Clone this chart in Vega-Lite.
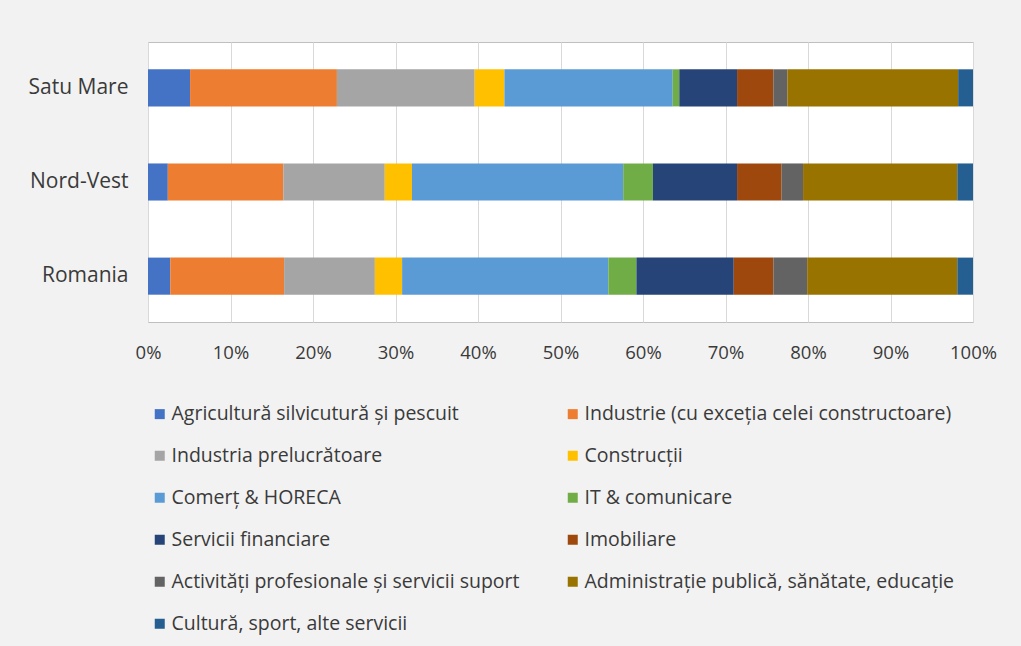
{
  "$schema": "https://vega.github.io/schema/vega-lite/v6.json",
  "width": 825,
  "height": 280,
  "autosize": {"type": "none"},
  "padding": {"left": 148, "top": 42, "right": 48, "bottom": 324},
  "background": "#f2f2f2",
  "datasets": {
    "rows": [
      {"r": "Satu Mare", "k": 1, "s": "Agricultură silvicutură și pescuit", "v": 5.1},
      {"r": "Satu Mare", "k": 2, "s": "Industrie (cu exceția celei constructoare)", "v": 17.8},
      {"r": "Satu Mare", "k": 3, "s": "Industria prelucrătoare", "v": 16.7},
      {"r": "Satu Mare", "k": 4, "s": "Construcții", "v": 3.6},
      {"r": "Satu Mare", "k": 5, "s": "Comerț & HORECA", "v": 20.4},
      {"r": "Satu Mare", "k": 6, "s": "IT & comunicare", "v": 0.8},
      {"r": "Satu Mare", "k": 7, "s": "Servicii financiare", "v": 7.0},
      {"r": "Satu Mare", "k": 8, "s": "Imobiliare", "v": 4.4},
      {"r": "Satu Mare", "k": 9, "s": "Activități profesionale  și servicii suport", "v": 1.7},
      {"r": "Satu Mare", "k": 10, "s": "Administrație publică, sănătate, educație", "v": 20.7},
      {"r": "Satu Mare", "k": 11, "s": "Cultură, sport, alte servicii", "v": 1.8},
      {"r": "Nord-Vest", "k": 1, "s": "Agricultură silvicutură și pescuit", "v": 2.4},
      {"r": "Nord-Vest", "k": 2, "s": "Industrie (cu exceția celei constructoare)", "v": 14.0},
      {"r": "Nord-Vest", "k": 3, "s": "Industria prelucrătoare", "v": 12.3},
      {"r": "Nord-Vest", "k": 4, "s": "Construcții", "v": 3.3},
      {"r": "Nord-Vest", "k": 5, "s": "Comerț & HORECA", "v": 25.6},
      {"r": "Nord-Vest", "k": 6, "s": "IT & comunicare", "v": 3.6},
      {"r": "Nord-Vest", "k": 7, "s": "Servicii financiare", "v": 10.2},
      {"r": "Nord-Vest", "k": 8, "s": "Imobiliare", "v": 5.4},
      {"r": "Nord-Vest", "k": 9, "s": "Activități profesionale  și servicii suport", "v": 2.6},
      {"r": "Nord-Vest", "k": 10, "s": "Administrație publică, sănătate, educație", "v": 18.7},
      {"r": "Nord-Vest", "k": 11, "s": "Cultură, sport, alte servicii", "v": 1.9},
      {"r": "Romania", "k": 1, "s": "Agricultură silvicutură și pescuit", "v": 2.7},
      {"r": "Romania", "k": 2, "s": "Industrie (cu exceția celei constructoare)", "v": 13.8},
      {"r": "Romania", "k": 3, "s": "Industria prelucrătoare", "v": 11.0},
      {"r": "Romania", "k": 4, "s": "Construcții", "v": 3.3},
      {"r": "Romania", "k": 5, "s": "Comerț & HORECA", "v": 25.0},
      {"r": "Romania", "k": 6, "s": "IT & comunicare", "v": 3.4},
      {"r": "Romania", "k": 7, "s": "Servicii financiare", "v": 11.8},
      {"r": "Romania", "k": 8, "s": "Imobiliare", "v": 4.8},
      {"r": "Romania", "k": 9, "s": "Activități profesionale  și servicii suport", "v": 4.1},
      {"r": "Romania", "k": 10, "s": "Administrație publică, sănătate, educație", "v": 18.2},
      {"r": "Romania", "k": 11, "s": "Cultură, sport, alte servicii", "v": 1.9}
    ]
  },
  "data": {"name": "rows"},
  "mark": {"type": "bar"},
  "encoding": {
    "y": {
      "field": "r", "type": "nominal", "sort": ["Satu Mare", "Nord-Vest", "Romania"],
      "scale": {"paddingInner": 0.606, "paddingOuter": 0.29},
      "axis": {"title": null, "ticks": false, "domain": false, "labelFontSize": 21, "labelColor": "#3a3a3a", "labelPadding": 20, "labelFont": "Open Sans"}
    },
    "x": {
      "field": "v", "type": "quantitative", "stack": "normalize",
      "scale": {"domain": [0, 1]},
      "axis": {"title": null, "format": ".0%", "values": [0,0.1,0.2,0.3,0.4,0.5,0.6,0.7,0.8,0.9,1], "ticks": false, "domain": false, "labelFontSize": 18.5, "labelColor": "#3a3a3a", "labelPadding": 21, "labelFont": "Open Sans", "gridColor": "#d9d9d9", "labelFlush": false, "labelOverlap": false}
    },
    "order": {"field": "k", "type": "quantitative"},
    "color": {
      "field": "s", "type": "nominal",
      "scale": {
        "domain": ["Agricultură silvicutură și pescuit", "Industria prelucrătoare", "Comerț & HORECA", "Servicii financiare", "Activități profesionale  și servicii suport", "Cultură, sport, alte servicii", "Industrie (cu exceția celei constructoare)", "Construcții", "IT & comunicare", "Imobiliare", "Administrație publică, sănătate, educație"],
        "range": ["#4472C4", "#A5A5A5", "#5B9BD5", "#264478", "#636363", "#255E91", "#ED7D31", "#FFC000", "#70AD47", "#9E480E", "#997300"]
      },
      "legend": {
        "title": null, "orient": "none", "legendX": 2, "legendY": 362, "direction": "vertical", "columns": 2,
        "symbolType": "square", "symbolSize": 100, "symbolStrokeWidth": 0, "labelFontSize": 19.5, "labelFont": "Open Sans", "labelColor": "#3a3a3a",
        "labelLimit": 500, "rowPadding": 21, "columnPadding": 38, "labelOffset": 2, "padding": 0
      }
    }
  },
  "config": {
    "view": {"fill": "white", "stroke": "#bfbfbf"}
  }
}
